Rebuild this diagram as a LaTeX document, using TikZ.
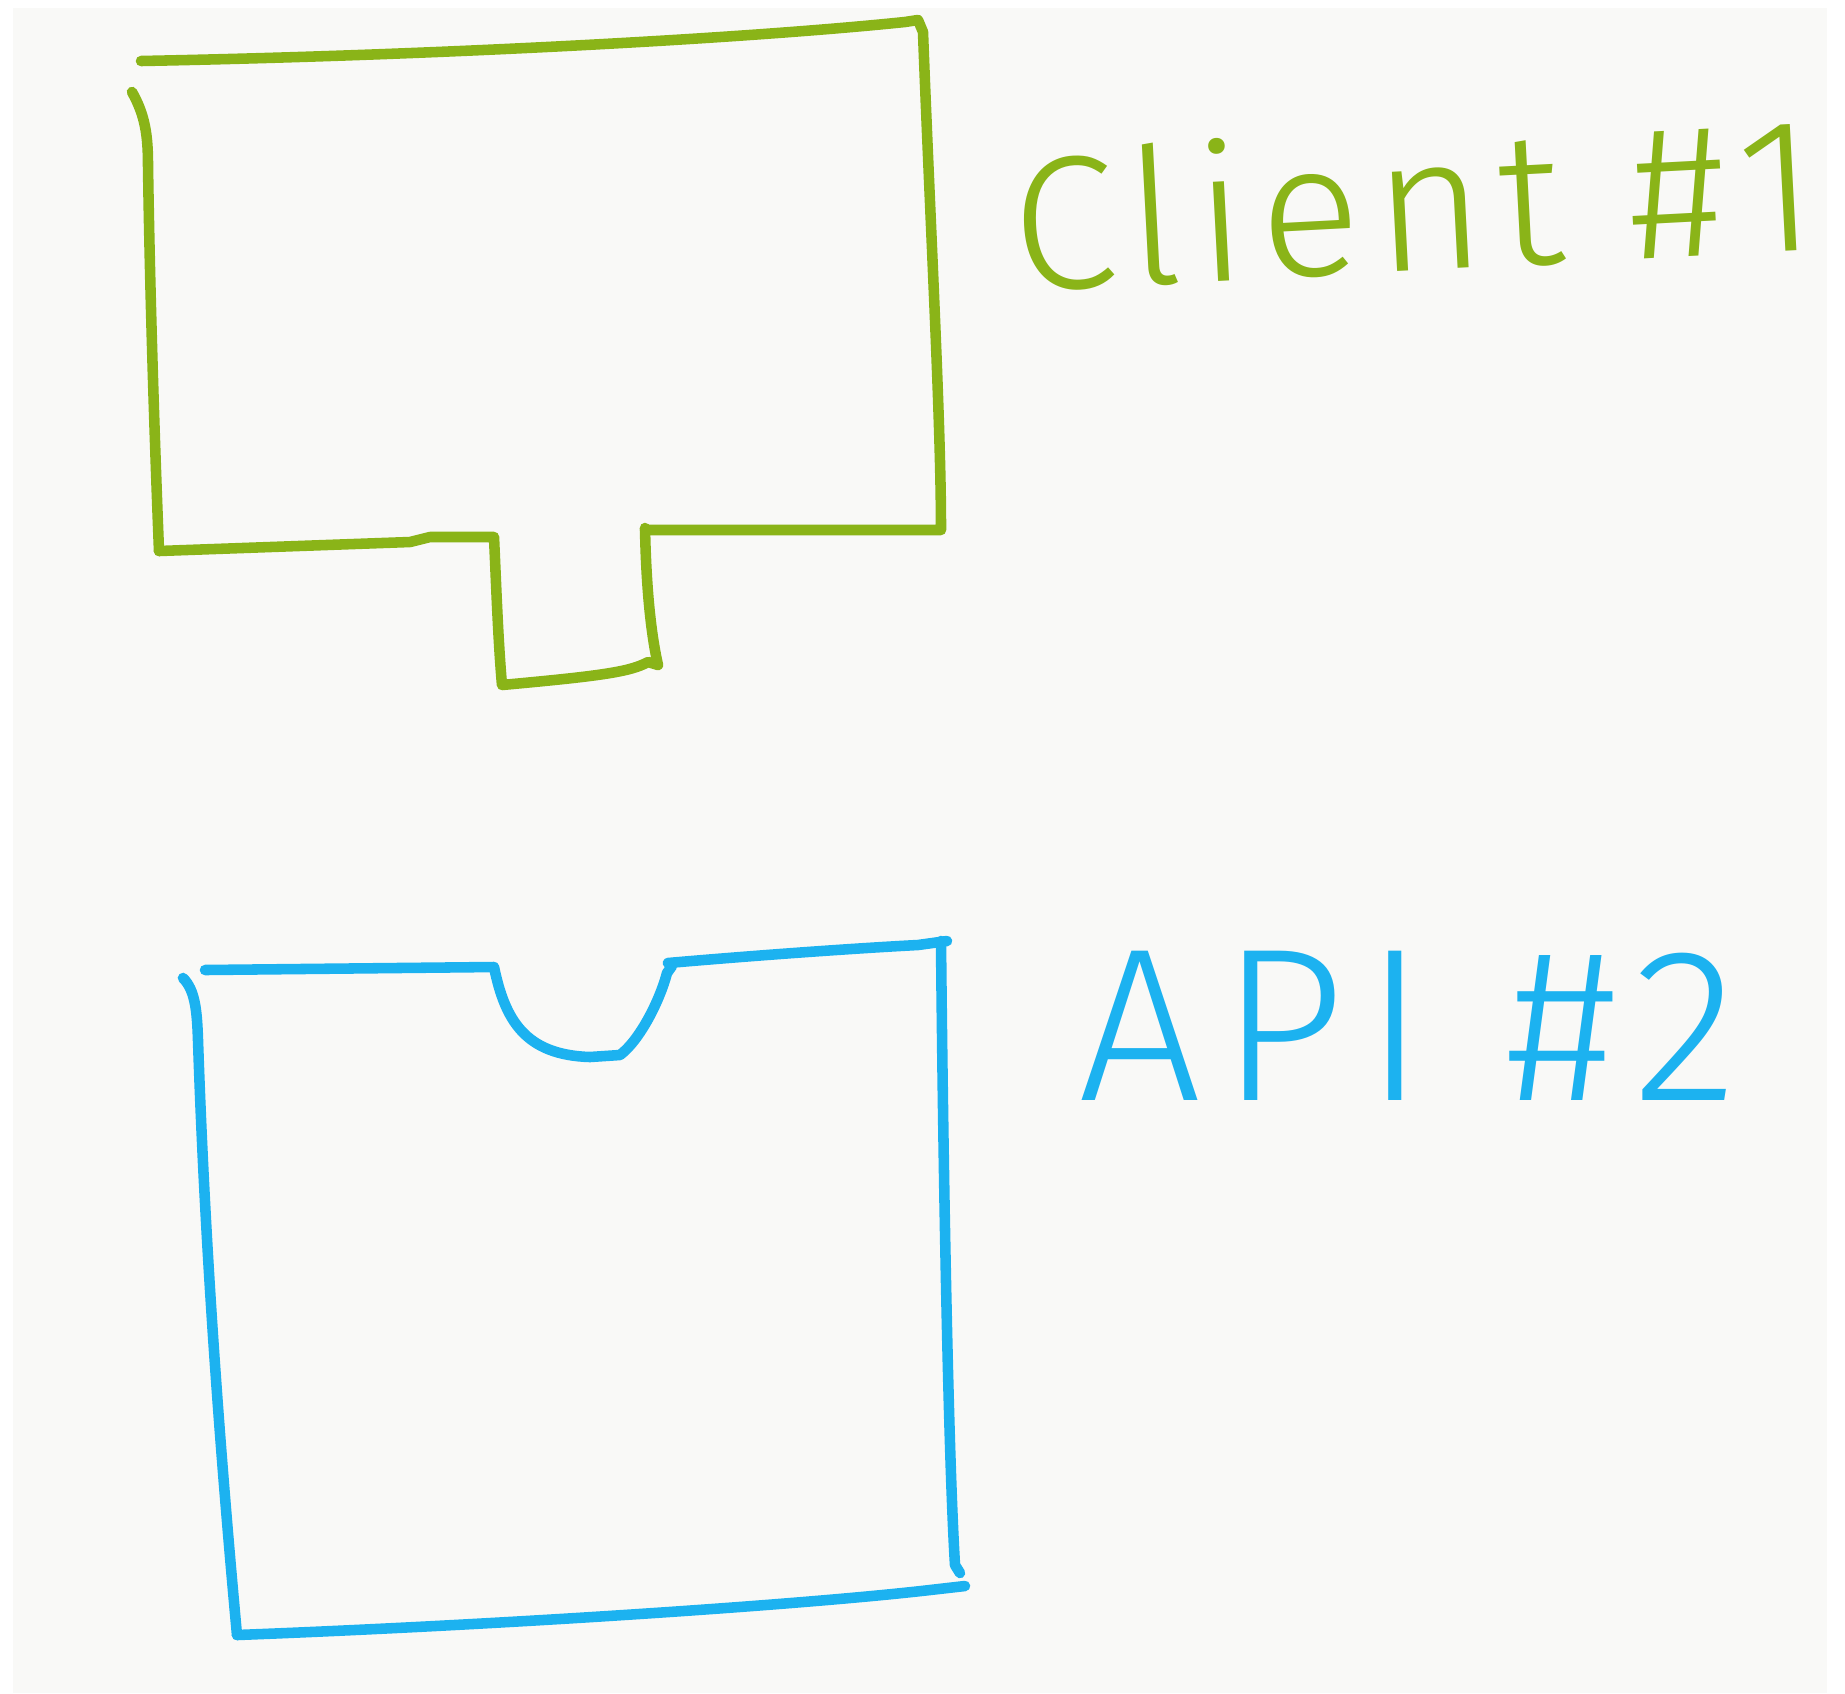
\documentclass[tikz,border=0pt]{standalone}
\usepackage{fontspec}
\newfontfamily\sketchfont{Fira Sans Light}
\definecolor{clientgreen}{RGB}{138,180,24}
\definecolor{apiblue}{RGB}{28,178,240}
\definecolor{paper}{RGB}{249,249,247}
\tikzset{
  sketch/.style={line width=3pt,line cap=round,line join=round},
  hand/.style={inner sep=0pt,anchor=base west}
}
\begin{document}
\begin{tikzpicture}[x=0.01cm,y=-0.01cm,font=\sketchfont]
  \useasboundingbox (0,0) rectangle (1845,1693);
  \fill[paper] (13,8) rectangle (1827,1693);
  \begin{scope}[sketch,clientgreen]
    \draw (141,61) .. controls (450,55) and (750,38) .. (905,22) -- (918,20)
      -- (923,32) .. controls (930,220) and (941,420) .. (941,530) -- (645,530);
    \draw (645,528) .. controls (646,580) and (650,630) .. (658,665) -- (648,662)
      .. controls (630,672) and (600,676) .. (502,685)
      .. controls (498,640) and (496,580) .. (494,537)
      -- (430,537) -- (410,542) -- (159,551);
    \draw (132,92) .. controls (145,115) and (148,135) .. (148,165)
      .. controls (150,300) and (155,450) .. (159,551);
    \node[hand,rotate=3,font=\sketchfont\fontsize{54}{56}\selectfont\addfontfeature{LetterSpace=7}]
      (client) at (1010,292) {Client \#1};
  \end{scope}
  \begin{scope}[sketch,apiblue]
    \draw (205,970) -- (494,967)
      .. controls (505,1020) and (525,1055) .. (590,1057) -- (620,1055)
      .. controls (640,1040) and (660,1000) .. (667,973) -- (672,966)
      -- (668,963) .. controls (760,955) and (860,948) .. (918,945) -- (947,941);
    \draw (941,941) .. controls (943,1150) and (948,1450) .. (955,1565) -- (960,1573);
    \draw (965,1586) -- (930,1590) .. controls (800,1605) and (500,1625) .. (237,1635);
    \draw (183,978) .. controls (195,990) and (197,1010) .. (198,1040)
      .. controls (205,1250) and (220,1450) .. (237,1635);
    \node[hand,font=\sketchfont\fontsize{62}{64}\selectfont\addfontfeature{LetterSpace=9}]
      (api) at (1073,1100) {API \#2};
  \end{scope}
\end{tikzpicture}
\end{document}
